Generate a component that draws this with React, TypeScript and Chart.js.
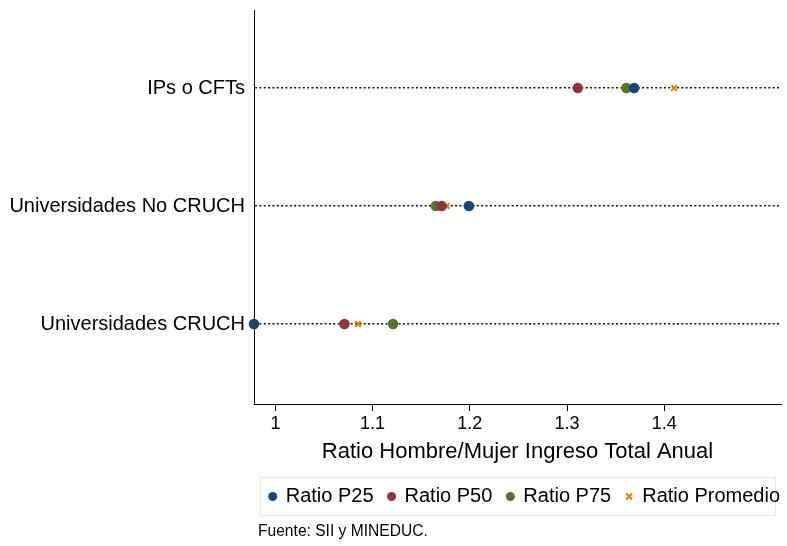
import React, { useEffect, useRef } from "react";
import { Chart, registerables } from "chart.js";

Chart.register(...registerables);

const categories = ["IPs o CFTs", "Universidades No CRUCH", "Universidades CRUCH"];
const ratioP25 = [1.369, 1.199, 0.978];
const ratioP50 = [1.311, 1.171, 1.071];
const ratioP75 = [1.361, 1.165, 1.121];
const ratioPromedio = [1.41, 1.176, 1.085];
const xTicks = [1, 1.1, 1.2, 1.3, 1.4];
const seriesNames = ["Ratio P25", "Ratio P50", "Ratio P75", "Ratio Promedio"];
const seriesColors = ["#1a476f", "#90353b", "#55752f", "#e37e00"];
const xTitle = "Ratio Hombre/Mujer Ingreso Total Anual";
const sourceNote = "Fuente: SII y MINEDUC.";

const FONT = "'Liberation Sans', Arial, Helvetica, sans-serif";

const legendPlugin = {
  id: "customLegend",
  afterDraw(chart: any) {
    const ctx = chart.ctx as CanvasRenderingContext2D;
    ctx.save();
    // legend box
    ctx.strokeStyle = "#e3eaec";
    ctx.lineWidth = 1;
    ctx.strokeRect(260.5, 477.5, 515, 38);
    ctx.font = `20px ${FONT}`;
    ctx.textBaseline = "middle";
    ctx.textAlign = "left";
    const y = 496.5;
    let x = 272.7;
    seriesNames.forEach((name, i) => {
      const color = seriesColors[i];
      if (i === 3) {
        ctx.strokeStyle = color;
        ctx.lineWidth = 2;
        const s = 3;
        ctx.beginPath();
        ctx.moveTo(x - s, y - s);
        ctx.lineTo(x + s, y + s);
        ctx.moveTo(x - s, y + s);
        ctx.lineTo(x + s, y - s);
        ctx.stroke();
      } else {
        ctx.fillStyle = color;
        ctx.beginPath();
        ctx.arc(x, y, 4.5, 0, Math.PI * 2);
        ctx.fill();
      }
      const tx = x + 13;
      ctx.fillStyle = "#000";
      ctx.fillText(name, tx, y);
      x = tx + ctx.measureText(name).width + 18;
    });
    // source note
    ctx.font = `15.6px ${FONT}`;
    ctx.fillStyle = "#000";
    ctx.fillText(sourceNote, 258, 531.5);
    ctx.restore();
  },
};

function buildData(values: number[]) {
  return values.map((v, i) => ({ x: v, y: i + 1 }));
}

export default function App() {
  const ref = useRef<HTMLCanvasElement | null>(null);
  useEffect(() => {
    if (!ref.current) return;
    const seriesValues = [ratioP25, ratioP50, ratioP75, ratioPromedio];
    const datasets = seriesNames.map((name, i) => ({
      label: name,
      data: buildData(seriesValues[i]),
      backgroundColor: seriesColors[i],
      borderColor: seriesColors[i],
      pointStyle: i === 3 ? "crossRot" : "circle",
      pointRadius: i === 3 ? 4 : 5.3,
      pointBorderWidth: i === 3 ? 2 : 0,
      clip: false as any,
    }));
    const chart = new Chart(ref.current, {
      type: "scatter",
      data: { datasets: datasets as any },
      plugins: [legendPlugin],
      options: {
        animation: false,
        responsive: false,
        maintainAspectRatio: false,
        devicePixelRatio: 1,
        layout: { padding: { top: 10, right: 6, left: 0, bottom: 80 } },
        plugins: {
          legend: { display: false },
          tooltip: { enabled: false },
        },
        scales: {
          x: {
            type: "linear",
            min: 0.978,
            max: 1.52,
            afterBuildTicks: (s: any) => {
              s.ticks = xTicks.map((v) => ({ value: v }));
            },
            afterFit: (s: any) => {
              s.height = 62;
              s.paddingLeft = 0;
              s.paddingRight = 0;
            },
            grid: {
              drawOnChartArea: false,
              drawTicks: true,
              tickLength: 7,
              color: "#000",
              lineWidth: 1,
            },
            border: { color: "#000", width: 1 },
            ticks: {
              color: "#000",
              font: { family: FONT, size: 18 },
              padding: 2,
              maxRotation: 0,
              autoSkip: false,
              callback: (v: any) => String(Math.round(Number(v) * 10) / 10),
            },
            title: {
              display: true,
              text: xTitle,
              color: "#000",
              font: { family: FONT, size: 22 },
              padding: { top: 0, bottom: 1 },
            },
          },
          y: {
            type: "linear",
            reverse: true,
            min: 0.339,
            max: 3.678,
            afterBuildTicks: (s: any) => {
              s.ticks = categories.map((_, i) => ({ value: i + 1 }));
            },
            afterFit: (s: any) => {
              s.width = 254;
              s.paddingTop = 0;
              s.paddingBottom = 0;
            },
            grid: {
              drawTicks: false,
              color: "#111",
              lineWidth: 1.6,
            },
            border: { color: "#000", width: 1, dash: [2, 2.35] },
            ticks: {
              color: "#000",
              font: { family: FONT, size: 20 },
              padding: 9,
              autoSkip: false,
              callback: (v: any) => categories[Math.round(Number(v)) - 1] ?? "",
            },
          },
        },
      },
    });
    return () => chart.destroy();
  }, []);
  return (
    <div style={{ position: "absolute", left: 0, top: 0, width: 787, height: 546, background: "#fff" }}>
      <canvas ref={ref} width={787} height={546} style={{ width: 787, height: 546, display: "block" }} />
    </div>
  );
}
